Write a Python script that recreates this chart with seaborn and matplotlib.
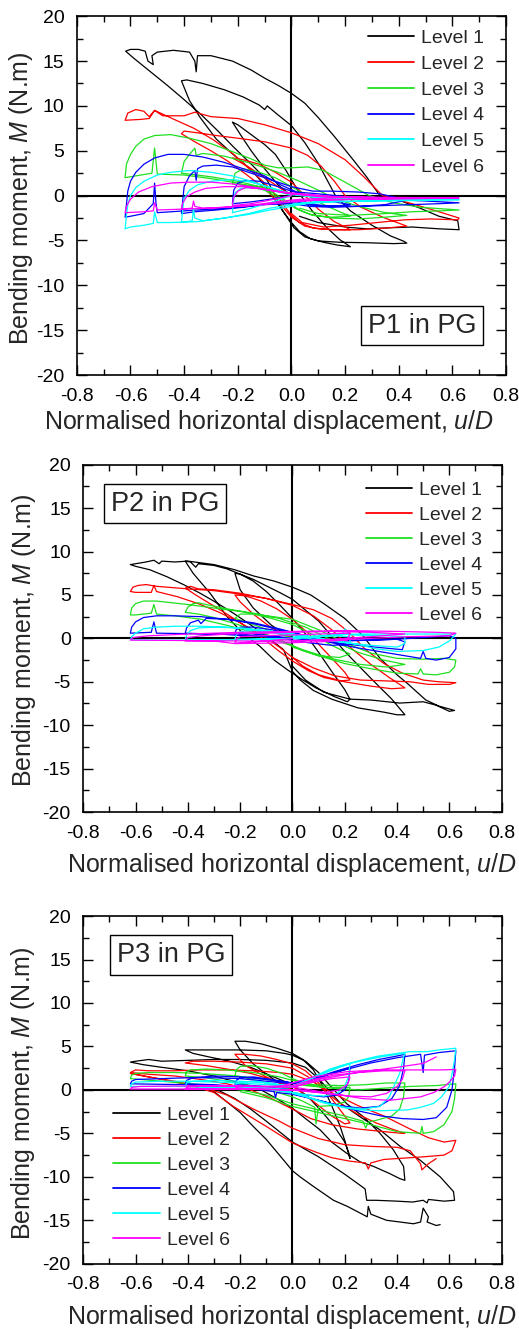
import matplotlib
matplotlib.use("Agg")
import matplotlib.pyplot as plt
from matplotlib.ticker import MultipleLocator
import pandas as pd
import seaborn as sns

# ---- data: (u/D, M [N.m]) along each loading path ----

P1_L1 = [(0.00, 0.0), (-0.05, 1.2), (-0.10, 3.0), (-0.15, 5.0), (-0.19, 6.8), (-0.22, 8.2),
         (-0.20, 7.9), (-0.15, 6.8), (-0.10, 5.7), (-0.06, 4.6), (-0.02, 2.8), (0.035, 0.0),
         (0.08, -1.8), (0.13, -3.5), (0.18, -4.9), (0.22, -5.7),
         (0.17, -5.5), (0.12, -5.2), (0.07, -4.8), (0.03, -4.0), (0.00, -3.0), (-0.04, -1.4),
         (-0.09, 0.8), (-0.15, 2.9), (-0.21, 4.4), (-0.28, 6.3), (-0.34, 8.7), (-0.38, 10.6),
         (-0.41, 12.8), (-0.39, 12.9), (-0.33, 12.5), (-0.25, 11.8), (-0.18, 11.0), (-0.12, 10.1),
         (-0.10, 9.6), (-0.09, 10.0), (-0.05, 9.0), (0.00, 7.8), (0.05, 5.9), (0.10, 3.6),
         (0.164, 0.0), (0.22, -1.7), (0.30, -3.3), (0.37, -4.5), (0.42, -5.1), (0.43, -5.3),
         (0.38, -5.35), (0.28, -5.25), (0.18, -5.2), (0.10, -5.05), (0.05, -4.6), (0.01, -3.6),
         (-0.03, -1.8), (-0.09, 1.7), (-0.153, 3.6), (-0.215, 5.4), (-0.277, 7.3), (-0.339, 9.1),
         (-0.40, 10.7), (-0.463, 12.3), (-0.525, 13.8), (-0.587, 15.3), (-0.618, 16.1),
         (-0.60, 16.3), (-0.57, 16.3), (-0.545, 16.1), (-0.535, 15.0), (-0.515, 14.6),
         (-0.52, 15.6), (-0.50, 16.0), (-0.44, 16.2), (-0.38, 16.0), (-0.36, 15.0),
         (-0.355, 13.8), (-0.35, 15.6), (-0.30, 15.6), (-0.22, 15.0), (-0.15, 14.0),
         (-0.10, 13.1), (-0.05, 12.3), (0.00, 11.4), (0.05, 10.3), (0.10, 8.7), (0.16, 6.6),
         (0.23, 4.0), (0.28, 2.1), (0.33, 0.0), (0.40, -0.5), (0.48, -1.4), (0.55, -2.3),
         (0.62, -2.8), (0.625, -3.8), (0.55, -3.7), (0.45, -3.5), (0.35, -3.6), (0.28, -3.7),
         (0.20, -3.5), (0.10, -3.0), (0.03, -2.3)]

P1_L2 = [(0.00, 0.0), (-0.05, 1.0), (-0.10, 2.0), (-0.16, 3.2), (-0.22, 4.2),
         (-0.18, 4.0), (-0.12, 3.5), (-0.06, 2.6), (0.00, 1.5), (0.05, 0.0), (0.10, -1.5),
         (0.16, -2.9), (0.22, -3.8), (0.16, -3.8), (0.10, -3.7), (0.05, -3.4), (0.00, -2.4),
         (-0.04, -1.0), (-0.10, 0.8), (-0.17, 2.4), (-0.24, 3.9), (-0.30, 5.0), (-0.36, 6.0),
         (-0.41, 6.9), (-0.40, 7.2), (-0.35, 7.0), (-0.28, 6.7), (-0.20, 6.4), (-0.10, 6.0),
         (0.00, 5.3), (0.06, 4.5), (0.11, 3.3), (0.16, 1.6), (0.20, 0.0), (0.26, -1.3),
         (0.34, -2.4), (0.43, -3.4), (0.36, -3.6), (0.25, -3.8), (0.15, -3.8), (0.08, -3.6),
         (0.03, -3.0), (0.00, -2.2), (-0.04, -0.6), (-0.10, 1.4), (-0.165, 3.2), (-0.215, 4.6),
         (-0.29, 6.2), (-0.363, 7.5), (-0.43, 8.4), (-0.51, 9.5), (-0.53, 8.6), (-0.56, 8.5),
         (-0.62, 8.4), (-0.61, 9.2), (-0.58, 9.6), (-0.55, 9.4), (-0.53, 8.8), (-0.51, 9.5),
         (-0.48, 8.9), (-0.40, 8.9), (-0.36, 9.3), (-0.30, 8.8), (-0.20, 8.6), (-0.10, 7.9),
         (0.00, 7.0), (0.10, 5.8), (0.20, 4.0), (0.27, 2.1), (0.34, 0.0), (0.45, -0.9),
         (0.55, -1.8), (0.625, -2.5), (0.62, -2.7), (0.52, -2.6), (0.42, -2.7), (0.32, -3.0),
         (0.22, -3.3), (0.12, -3.5), (0.04, -3.0), (0.00, -2.0)]

P1_L3 = [(0.00, 0.0), (-0.06, 0.6), (-0.12, 1.0), (-0.18, 1.2), (-0.22, 1.3),
         (-0.21, 2.5), (-0.18, 3.0), (-0.12, 2.6), (-0.06, 2.0), (0.00, 1.0), (0.06, 0.0),
         (0.12, -1.0), (0.18, -1.8), (0.22, -2.3), (0.15, -2.4), (0.08, -2.2), (0.03, -1.6),
         (0.00, -1.0), (-0.06, 0.2), (-0.12, 1.0), (-0.20, 1.6), (-0.30, 2.1), (-0.38, 2.4),
         (-0.41, 2.5), (-0.40, 3.8), (-0.38, 4.6), (-0.36, 5.3), (-0.355, 4.5), (-0.33, 4.7),
         (-0.25, 4.4), (-0.15, 3.6), (-0.05, 2.6), (0.03, 1.6), (0.10, 0.6), (0.16, -0.3),
         (0.25, -1.2), (0.35, -1.9), (0.43, -2.2), (0.35, -2.4), (0.25, -2.6), (0.15, -2.5),
         (0.07, -2.1), (0.02, -1.5), (-0.03, -0.6), (-0.10, 0.6), (-0.20, 1.4), (-0.30, 1.9),
         (-0.40, 2.3), (-0.50, 2.4), (-0.51, 5.3), (-0.52, 2.5), (-0.58, 2.2), (-0.62, 2.0),
         (-0.615, 3.5), (-0.60, 4.6), (-0.58, 5.5), (-0.55, 6.3), (-0.51, 6.7), (-0.45, 6.8),
         (-0.38, 6.4), (-0.30, 5.8), (-0.22, 4.9), (-0.15, 4.1), (-0.10, 3.4), (-0.05, 3.1),
         (0.00, 3.1), (0.06, 3.2), (0.12, 2.8), (0.20, 1.5), (0.29, 0.0), (0.38, -0.8),
         (0.48, -1.3), (0.625, -1.6), (0.55, -1.7), (0.45, -1.8), (0.35, -2.0), (0.22, -2.2),
         (0.10, -2.0), (0.03, -1.4)]

P1_L4 = [(0.00, 0.0), (-0.08, -0.4), (-0.15, -0.7), (-0.22, -0.9),
         (-0.215, 0.6), (-0.20, 1.4), (-0.17, 1.7), (-0.12, 1.6), (-0.06, 1.1), (0.00, 0.5),
         (0.06, 0.0), (0.12, -0.5), (0.22, -1.0), (0.15, -1.2), (0.08, -1.1), (0.02, -0.7),
         (-0.08, -0.9), (-0.18, -1.3), (-0.28, -1.6), (-0.36, -1.8), (-0.41, -2.0),
         (-0.405, -0.5), (-0.40, 1.0), (-0.38, 2.2), (-0.36, 2.8), (-0.355, 1.7), (-0.35, 3.0),
         (-0.33, 3.3), (-0.28, 3.4), (-0.22, 3.2), (-0.15, 2.5), (-0.08, 1.8), (0.00, 1.0),
         (0.08, 0.5), (0.15, 0.5), (0.25, 0.4), (0.33, 0.2), (0.43, -0.5), (0.35, -1.0),
         (0.25, -1.2), (0.15, -1.3), (0.07, -1.2), (0.00, -0.9), (-0.10, -1.0), (-0.20, -1.3),
         (-0.30, -1.5), (-0.40, -1.7), (-0.50, -1.9), (-0.505, -0.8), (-0.51, 1.4),
         (-0.515, -0.9), (-0.55, -2.0), (-0.60, -2.3), (-0.62, -2.4), (-0.615, -1.0),
         (-0.61, 0.5), (-0.60, 1.6), (-0.58, 2.6), (-0.55, 3.5), (-0.51, 4.2), (-0.46, 4.6),
         (-0.40, 4.6), (-0.33, 4.3), (-0.25, 3.7), (-0.18, 3.0), (-0.10, 2.2), (-0.04, 1.2),
         (0.02, 0.4), (0.10, 0.2), (0.20, -0.1), (0.35, -0.4), (0.50, -0.6), (0.625, -0.8),
         (0.55, -0.9), (0.45, -1.0), (0.35, -1.1), (0.25, -1.2), (0.12, -1.1), (0.03, -0.8)]

P1_L5 = [(0.00, 0.0), (-0.08, -0.8), (-0.15, -1.4), (-0.22, -1.9),
         (-0.215, -0.5), (-0.21, 0.3), (-0.19, 0.8), (-0.15, 0.9), (-0.08, 0.6), (0.00, 0.1),
         (0.10, -0.2), (0.22, -0.4), (0.12, -0.6), (0.04, -0.8), (0.00, -1.0),
         (-0.08, -1.4), (-0.16, -2.0), (-0.25, -2.5), (-0.33, -2.8), (-0.36, -2.5),
         (-0.365, -1.5), (-0.37, -2.8), (-0.41, -3.0), (-0.405, -1.5), (-0.40, -0.3),
         (-0.38, 0.6), (-0.35, 1.2), (-0.30, 1.6), (-0.22, 1.8), (-0.15, 1.5), (-0.08, 0.9),
         (0.00, 0.2), (0.10, -0.1), (0.25, -0.3), (0.43, -0.5), (0.30, -0.6), (0.15, -0.7),
         (0.05, -0.9), (0.00, -1.2), (-0.08, -1.6), (-0.16, -2.1), (-0.25, -2.5),
         (-0.35, -2.9), (-0.45, -3.0), (-0.50, -3.0), (-0.51, -1.8), (-0.515, -3.1),
         (-0.55, -3.3), (-0.60, -3.5), (-0.62, -3.7), (-0.615, -2.2), (-0.61, -1.0),
         (-0.60, 0.0), (-0.58, 0.9), (-0.55, 1.6), (-0.50, 2.3), (-0.45, 2.6), (-0.38, 2.8),
         (-0.30, 2.6), (-0.22, 2.2), (-0.15, 1.6), (-0.08, 0.9), (0.00, 0.2), (0.10, -0.2),
         (0.30, -0.4), (0.625, -0.45), (0.45, -0.55), (0.25, -0.6), (0.10, -0.7), (0.00, -1.0)]

P1_L6 = [(0.00, 0.0), (-0.08, -0.5), (-0.15, -0.9), (-0.22, -1.1),
         (-0.215, -0.2), (-0.20, 0.5), (-0.17, 0.9), (-0.12, 0.8), (-0.06, 0.5), (0.00, 0.2),
         (0.10, -0.1), (0.22, -0.2), (0.12, -0.3), (0.04, -0.4), (0.00, -0.5),
         (-0.08, -0.8), (-0.16, -1.1), (-0.25, -1.3), (-0.33, -1.4), (-0.36, -1.2),
         (-0.365, -0.6), (-0.37, -1.4), (-0.41, -1.5), (-0.405, -0.8), (-0.39, -0.1),
         (-0.36, 0.4), (-0.32, 0.8), (-0.25, 1.0), (-0.18, 1.0), (-0.10, 0.7), (0.00, 0.3),
         (0.15, -0.1), (0.43, -0.3), (0.25, -0.4), (0.10, -0.5), (0.00, -0.7),
         (-0.10, -1.0), (-0.20, -1.2), (-0.30, -1.4), (-0.40, -1.5), (-0.50, -1.6),
         (-0.51, -0.8), (-0.515, -1.7), (-0.55, -1.8), (-0.62, -1.9), (-0.615, -1.2),
         (-0.60, -0.4), (-0.57, 0.4), (-0.52, 1.0), (-0.45, 1.4), (-0.38, 1.5), (-0.30, 1.5),
         (-0.22, 1.3), (-0.15, 1.0), (-0.08, 0.6), (0.00, 0.2), (0.15, -0.1), (0.35, -0.2),
         (0.625, -0.25), (0.45, -0.35), (0.25, -0.4), (0.10, -0.5), (0.00, -0.6)]

P2_L1 = [(0.00, 0.0), (-0.08, 1.5), (-0.15, 3.5), (-0.20, 5.6), (-0.22, 7.5),
         (-0.20, 7.4), (-0.15, 6.6), (-0.10, 5.4), (-0.05, 3.9), (0.00, 2.3), (0.05, 0.5),
         (0.10, -1.6), (0.15, -3.8), (0.20, -5.9), (0.22, -7.0), (0.21, -7.3), (0.16, -6.7),
         (0.09, -5.7), (0.04, -4.8), (0.00, -4.0), (-0.02, -3.6), (-0.07, -2.5),
         (-0.125, -0.9), (-0.19, 0.6), (-0.25, 2.5), (-0.315, 5.2), (-0.38, 7.5), (-0.41, 8.9),
         (-0.39, 8.8), (-0.37, 8.2), (-0.36, 8.6), (-0.30, 8.4), (-0.25, 8.0), (-0.15, 6.8),
         (-0.05, 5.3), (0.00, 4.5), (0.10, 2.0), (0.20, -1.5), (0.30, -4.6), (0.38, -7.0),
         (0.43, -8.8), (0.40, -8.8), (0.35, -8.5), (0.25, -8.0), (0.15, -7.0), (0.08, -6.0),
         (0.03, -4.8), (0.00, -3.8), (-0.034, -1.3), (-0.098, 0.2), (-0.162, 1.6),
         (-0.226, 2.9), (-0.29, 4.1), (-0.353, 5.2), (-0.417, 6.2), (-0.48, 7.1),
         (-0.545, 7.9), (-0.60, 8.3), (-0.62, 8.5), (-0.60, 8.6), (-0.56, 8.8), (-0.53, 9.0),
         (-0.51, 8.6), (-0.50, 8.9), (-0.45, 8.8), (-0.40, 8.9), (-0.30, 8.5), (-0.22, 7.9),
         (-0.15, 7.2), (-0.07, 6.6), (0.00, 5.9), (0.07, 5.0), (0.12, 4.0), (0.20, 2.3),
         (0.27, 0.3), (0.335, -2.3), (0.40, -4.2), (0.44, -5.2), (0.51, -7.1), (0.56, -7.8),
         (0.62, -8.3), (0.60, -8.4), (0.55, -7.7), (0.50, -7.3), (0.41, -7.45), (0.30, -7.1),
         (0.22, -7.0), (0.12, -6.2), (0.05, -4.8), (0.00, -3.2)]

P2_L2 = [(0.00, 0.0), (-0.08, 1.2), (-0.15, 2.8), (-0.20, 4.2), (-0.22, 5.0),
         (-0.18, 4.9), (-0.12, 4.3), (-0.06, 3.4), (0.00, 2.2), (0.06, 0.6), (0.11, -1.0),
         (0.16, -2.6), (0.20, -3.9), (0.22, -4.8), (0.18, -4.9), (0.12, -4.5), (0.06, -3.7),
         (0.00, -2.6), (-0.05, -1.5), (-0.10, -0.3), (-0.17, 1.2), (-0.24, 2.6), (-0.31, 3.9),
         (-0.37, 5.0), (-0.41, 5.8), (-0.39, 6.0), (-0.36, 5.7), (-0.30, 5.6), (-0.20, 5.2),
         (-0.10, 4.6), (0.00, 3.8), (0.08, 2.6), (0.15, 1.0), (0.22, -1.0), (0.30, -3.0),
         (0.37, -4.5), (0.43, -5.7), (0.38, -5.8), (0.30, -5.5), (0.20, -5.0), (0.10, -4.2),
         (0.04, -3.2), (0.00, -2.2), (-0.05, -1.0), (-0.12, 0.4), (-0.20, 1.8), (-0.28, 3.0),
         (-0.36, 4.0), (-0.44, 4.8), (-0.52, 5.4), (-0.53, 6.1), (-0.54, 5.3), (-0.60, 5.3),
         (-0.62, 5.4), (-0.61, 5.9), (-0.59, 6.1), (-0.56, 6.2), (-0.52, 6.0), (-0.48, 5.9),
         (-0.40, 5.7), (-0.30, 5.5), (-0.20, 5.1), (-0.10, 4.6), (0.00, 3.9), (0.08, 3.3),
         (0.15, 2.3), (0.22, 0.6), (0.28, -1.3), (0.35, -2.9), (0.42, -4.0), (0.50, -4.8),
         (0.56, -5.0), (0.625, -5.1), (0.60, -5.3), (0.52, -5.3), (0.45, -5.0), (0.36, -4.9),
         (0.26, -4.8), (0.16, -4.3), (0.08, -3.4), (0.00, -2.2)]

P2_L3 = [(0.00, 0.0), (-0.08, 0.8), (-0.15, 1.6), (-0.22, 2.3),
         (-0.20, 2.8), (-0.15, 2.8), (-0.08, 2.3), (0.00, 1.6), (0.08, 0.4), (0.15, -0.8),
         (0.22, -1.8), (0.18, -2.2), (0.10, -2.0), (0.04, -1.4), (0.00, -0.8), (-0.06, 0.0),
         (-0.14, 0.9), (-0.22, 1.7), (-0.30, 2.4), (-0.36, 2.8), (-0.41, 3.0), (-0.40, 3.6),
         (-0.38, 4.0), (-0.36, 4.1), (-0.33, 3.9), (-0.25, 3.4), (-0.15, 2.9), (-0.05, 2.3),
         (0.05, 1.3), (0.15, -0.2), (0.25, -1.6), (0.35, -2.5), (0.43, -3.0), (0.36, -3.3),
         (0.26, -3.0), (0.16, -2.4), (0.07, -1.6), (0.00, -0.9), (-0.07, -0.1), (-0.15, 0.7),
         (-0.25, 1.5), (-0.35, 2.2), (-0.45, 2.6), (-0.52, 2.8), (-0.53, 3.9), (-0.54, 2.9),
         (-0.60, 2.7), (-0.62, 2.7), (-0.615, 3.5), (-0.60, 4.0), (-0.57, 4.3), (-0.52, 4.3),
         (-0.46, 4.1), (-0.40, 3.9), (-0.30, 3.5), (-0.20, 3.1), (-0.10, 2.6), (0.00, 2.2),
         (0.10, 1.0), (0.20, -0.5), (0.30, -1.7), (0.40, -2.3), (0.50, -2.4), (0.58, -2.3),
         (0.625, -2.5), (0.62, -3.3), (0.60, -3.9), (0.55, -4.2), (0.50, -4.1), (0.49, -3.5),
         (0.48, -4.1), (0.40, -4.0), (0.30, -3.5), (0.20, -2.9), (0.10, -2.0), (0.00, -1.0)]

P2_L4 = [(0.00, 0.0), (-0.08, 0.3), (-0.15, 0.5), (-0.22, 0.6),
         (-0.215, 1.0), (-0.20, 1.3), (-0.15, 1.3), (-0.08, 1.0), (0.00, 0.5), (0.10, -0.2),
         (0.22, -0.7), (0.15, -0.8), (0.06, -0.5), (0.00, -0.2), (-0.10, 0.2), (-0.20, 0.4),
         (-0.30, 0.5), (-0.41, 0.6), (-0.405, 1.2), (-0.39, 1.8), (-0.36, 2.1), (-0.35, 1.7),
         (-0.33, 2.3), (-0.25, 2.2), (-0.15, 1.8), (-0.05, 1.1), (0.05, 0.3), (0.15, -0.4),
         (0.25, -0.8), (0.35, -1.1), (0.42, -1.3), (0.43, -0.4), (0.40, -0.1), (0.30, -0.2),
         (0.20, -0.3), (0.10, -0.2), (0.00, 0.0), (-0.10, 0.2), (-0.20, 0.4), (-0.30, 0.5),
         (-0.40, 0.55), (-0.52, 0.6), (-0.53, 1.9), (-0.54, 0.7), (-0.62, 0.6),
         (-0.615, 1.3), (-0.60, 1.9), (-0.57, 2.4), (-0.52, 2.6), (-0.45, 2.6), (-0.35, 2.5),
         (-0.25, 2.2), (-0.15, 1.7), (-0.05, 1.0), (0.05, 0.3), (0.15, -0.5), (0.25, -1.1),
         (0.35, -1.6), (0.45, -2.1), (0.49, -2.3), (0.50, -1.5), (0.51, -2.3), (0.55, -2.5),
         (0.60, -2.2), (0.625, -1.2), (0.625, 0.0), (0.60, 0.3), (0.50, 0.1), (0.40, -0.1),
         (0.30, -0.2), (0.20, -0.2), (0.10, -0.1), (0.00, 0.0)]

P2_L5 = [(0.00, 0.0), (-0.08, -0.05), (-0.15, -0.1), (-0.22, -0.1),
         (-0.215, 0.4), (-0.20, 0.8), (-0.15, 0.9), (-0.08, 0.7), (0.00, 0.3), (0.10, -0.2),
         (0.22, -0.5), (0.22, 0.2), (0.15, 0.3), (0.05, 0.1), (0.00, 0.0), (-0.10, -0.1),
         (-0.20, -0.15), (-0.30, -0.2), (-0.41, -0.2), (-0.405, 0.4), (-0.39, 0.9),
         (-0.36, 1.2), (-0.30, 1.3), (-0.20, 1.2), (-0.10, 0.9), (0.00, 0.5), (0.10, 0.0),
         (0.20, -0.5), (0.30, -0.8), (0.40, -1.0), (0.43, -0.6), (0.43, 0.2), (0.35, 0.3),
         (0.22, 0.4), (0.20, 1.1), (0.19, 0.4), (0.10, 0.2), (0.00, 0.0), (-0.10, -0.1),
         (-0.25, -0.15), (-0.40, -0.2), (-0.52, -0.2), (-0.62, -0.15), (-0.615, 0.2),
         (-0.60, 0.6), (-0.57, 1.1), (-0.52, 1.3), (-0.45, 1.4), (-0.35, 1.4), (-0.25, 1.3),
         (-0.15, 1.0), (-0.05, 0.7), (0.05, 0.3), (0.15, -0.2), (0.25, -0.7), (0.32, -1.2),
         (0.40, -1.5), (0.50, -1.4), (0.56, -1.0), (0.60, -0.3), (0.625, 0.5), (0.55, 0.5),
         (0.45, 0.5), (0.35, 0.5), (0.25, 0.5), (0.15, 0.4), (0.05, 0.2), (0.00, 0.0)]

P2_L6 = [(0.00, 0.0), (-0.10, -0.3), (-0.22, -0.55),
         (-0.215, -0.1), (-0.20, 0.2), (-0.12, 0.3), (0.00, 0.4), (0.10, 0.5), (0.22, 0.6),
         (0.21, -0.2), (0.10, -0.4), (0.00, -0.5), (-0.10, -0.55), (-0.22, -0.6),
         (-0.30, -0.3), (-0.41, -0.3), (-0.40, 0.1), (-0.35, 0.3), (-0.25, 0.5), (-0.10, 0.6),
         (0.00, 0.7), (0.15, 0.8), (0.30, 0.7), (0.43, 0.5), (0.30, 0.2), (0.15, -0.1),
         (0.00, -0.3), (-0.20, -0.3), (-0.40, -0.25), (-0.62, -0.2), (-0.61, 0.1),
         (-0.55, 0.3), (-0.40, 0.5), (-0.20, 0.7), (0.00, 0.8), (0.20, 0.9), (0.40, 0.8),
         (0.55, 0.7), (0.625, 0.6), (0.60, 0.3), (0.45, 0.2), (0.30, 0.0), (0.15, -0.2),
         (0.00, -0.3)]

P3_L1 = [(0.00, 0.0), (-0.05, 0.8), (-0.10, 1.8), (-0.15, 3.0), (-0.20, 4.6), (-0.22, 5.6),
         (-0.18, 5.6), (-0.12, 5.3), (-0.06, 4.8), (0.00, 4.2), (0.04, 3.5), (0.08, 2.3),
         (0.12, 0.2), (0.15, -1.8), (0.18, -4.0), (0.20, -5.8), (0.22, -7.9),
         (0.215, -7.2), (0.20, -6.0), (0.16, -4.2), (0.11, -2.4), (0.06, -0.8), (0.00, 0.6),
         (-0.08, 1.6), (-0.16, 2.6), (-0.24, 3.3), (-0.32, 3.8), (-0.38, 4.2), (-0.41, 4.6),
         (-0.38, 4.6), (-0.30, 4.6), (-0.20, 4.6), (-0.10, 4.5), (-0.03, 4.2), (0.00, 4.0),
         (0.05, 3.3), (0.10, 2.0), (0.15, 0.3), (0.208, -1.6), (0.272, -3.1), (0.335, -5.0),
         (0.386, -6.9), (0.425, -8.8), (0.43, -10.4), (0.41, -10.2), (0.37, -9.6),
         (0.31, -8.8), (0.26, -8.3), (0.208, -7.3), (0.15, -6.0), (0.106, -4.6), (0.05, -3.3),
         (0.00, -2.1), (-0.06, -1.0), (-0.12, 0.0), (-0.20, 0.8), (-0.30, 1.6), (-0.40, 2.2),
         (-0.50, 2.6), (-0.57, 2.9), (-0.62, 3.2), (-0.60, 3.3), (-0.55, 3.5), (-0.50, 3.3),
         (-0.40, 3.4), (-0.30, 3.5), (-0.20, 3.5), (-0.10, 3.4), (0.00, 3.1), (0.05, 2.6),
         (0.10, 1.3), (0.182, -1.5), (0.259, -3.1), (0.335, -4.6), (0.412, -6.5),
         (0.489, -8.1), (0.565, -10.0), (0.616, -11.7), (0.62, -12.7), (0.58, -12.8),
         (0.52, -12.6), (0.515, -13.0), (0.50, -12.7), (0.46, -12.9), (0.40, -12.8),
         (0.32, -12.7), (0.284, -12.7), (0.278, -11.4), (0.26, -11.0), (0.20, -9.7),
         (0.10, -7.7), (0.00, -6.0), (-0.05, -4.8), (-0.10, -3.6), (-0.16, -2.2),
         (-0.22, -1.0), (-0.28, -0.1), (-0.34, 0.2), (-0.30, -0.2), (-0.25, -1.4),
         (-0.20, -2.6), (-0.15, -4.2), (-0.10, -5.7), (-0.047, -7.6), (0.00, -9.3),
         (0.029, -10.0), (0.08, -11.1), (0.157, -12.7), (0.21, -13.4), (0.286, -14.6),
         (0.29, -13.4), (0.30, -14.3), (0.36, -15.0), (0.463, -15.4), (0.49, -15.2),
         (0.50, -13.6), (0.52, -14.6), (0.515, -15.2), (0.55, -15.6), (0.565, -15.5)]

P3_L2 = [(0.00, 0.0), (-0.06, 0.9), (-0.12, 1.8), (-0.18, 2.8), (-0.22, 4.1),
         (-0.18, 4.1), (-0.12, 3.9), (-0.06, 3.5), (0.00, 3.0), (0.05, 2.2), (0.10, 0.8),
         (0.15, -1.0), (0.19, -2.6), (0.22, -3.8), (0.20, -3.9), (0.15, -3.0), (0.10, -1.8),
         (0.05, -0.6), (0.00, 0.4), (-0.08, 1.2), (-0.16, 1.9), (-0.25, 2.4), (-0.33, 2.8),
         (-0.41, 3.1), (-0.38, 3.3), (-0.30, 3.3), (-0.20, 3.2), (-0.10, 3.0), (0.00, 2.5),
         (0.06, 1.5), (0.12, 0.0), (0.18, -1.5), (0.25, -2.8), (0.32, -3.8), (0.38, -4.5),
         (0.43, -5.0), (0.42, -5.0), (0.35, -4.8), (0.25, -4.5), (0.15, -4.0), (0.07, -3.3),
         (0.00, -2.2), (-0.08, -1.0), (-0.16, 0.0), (-0.25, 0.7), (-0.35, 1.2), (-0.45, 1.6),
         (-0.55, 1.8), (-0.62, 2.0), (-0.60, 2.3), (-0.55, 2.2), (-0.45, 2.2), (-0.35, 2.3),
         (-0.25, 2.3), (-0.15, 2.2), (-0.05, 2.0), (0.00, 1.8), (0.08, 0.9), (0.15, -0.3),
         (0.25, -1.8), (0.35, -3.0), (0.45, -4.5), (0.52, -5.5), (0.58, -6.0), (0.625, -5.8),
         (0.61, -7.0), (0.58, -7.5), (0.50, -7.7), (0.40, -7.9), (0.35, -8.0), (0.30, -8.4),
         (0.29, -9.1), (0.28, -8.4), (0.22, -8.2), (0.15, -7.8), (0.093, -7.2), (0.00, -6.1),
         (-0.10, -4.2), (-0.226, -1.9), (-0.30, -0.3), (-0.40, 0.6), (-0.50, 1.2),
         (-0.62, 1.9), (-0.55, 1.5), (-0.45, 1.0), (-0.35, 0.4), (-0.25, -0.6),
         (-0.15, -2.2), (-0.05, -3.6), (0.00, -4.4), (0.10, -5.6), (0.20, -6.3), (0.30, -6.5),
         (0.40, -6.6), (0.45, -7.0), (0.49, -8.5), (0.495, -9.2), (0.52, -8.5), (0.55, -7.9)]

P3_L3 = [(0.00, 0.0), (-0.08, 0.6), (-0.15, 1.2), (-0.22, 1.6),
         (-0.215, 2.3), (-0.20, 2.7), (-0.16, 2.8), (-0.10, 2.5), (-0.04, 1.9), (0.00, 1.3),
         (0.06, 0.6), (0.12, 0.3), (0.18, 0.3), (0.22, 0.3), (0.215, -0.8), (0.20, -1.4),
         (0.15, -1.8), (0.10, -1.9), (0.09, -3.9), (0.085, -2.0), (0.04, -1.3), (0.00, -0.8),
         (-0.08, -0.1), (-0.16, 0.5), (-0.25, 1.0), (-0.33, 1.4), (-0.41, 1.6),
         (-0.405, 2.1), (-0.39, 2.3), (-0.33, 2.4), (-0.25, 2.3), (-0.15, 2.0), (-0.05, 1.5),
         (0.00, 1.1), (0.08, 0.6), (0.18, 0.5), (0.28, 0.6), (0.36, 0.8), (0.43, 0.8),
         (0.425, -0.8), (0.41, -2.2), (0.38, -3.0), (0.32, -3.5), (0.29, -3.7), (0.28, -4.4),
         (0.27, -3.6), (0.20, -3.0), (0.10, -2.3), (0.00, -1.6), (-0.10, -0.6), (-0.20, 0.0),
         (-0.35, 0.6), (-0.50, 1.0), (-0.62, 1.3), (-0.615, 1.7), (-0.60, 1.9), (-0.55, 2.0),
         (-0.45, 2.0), (-0.35, 1.9), (-0.25, 1.7), (-0.15, 1.4), (-0.05, 1.0), (0.05, 0.5),
         (0.15, 0.2), (0.25, 0.0), (0.35, 0.2), (0.45, 0.4), (0.55, 0.5), (0.625, 0.7),
         (0.62, -1.0), (0.61, -2.5), (0.58, -4.0), (0.54, -4.8), (0.50, -5.0), (0.495, -4.2),
         (0.49, -5.0), (0.40, -4.8), (0.30, -4.0), (0.20, -3.3), (0.10, -2.6), (0.00, -1.9),
         (-0.10, -0.9), (-0.20, -0.2)]

P3_L4 = [(0.00, 0.0), (-0.08, 0.3), (-0.15, 0.5), (-0.22, 0.6),
         (-0.215, 1.1), (-0.20, 1.4), (-0.15, 1.5), (-0.08, 1.2), (0.00, 0.8), (0.06, 1.0),
         (0.12, 1.6), (0.18, 2.2), (0.22, 2.5), (0.215, 1.0), (0.20, 0.0), (0.17, -0.6),
         (0.12, -0.8), (0.06, -0.6), (0.00, -0.3), (-0.08, 0.0), (-0.20, 0.4), (-0.30, 0.6),
         (-0.41, 0.7), (-0.405, 1.1), (-0.38, 1.4), (-0.30, 1.6), (-0.20, 1.5), (-0.10, 1.2),
         (0.00, 0.8), (0.08, 1.3), (0.16, 2.1), (0.25, 2.9), (0.33, 3.5), (0.40, 3.9),
         (0.43, 4.1), (0.425, 2.5), (0.41, 0.5), (0.38, -1.0), (0.33, -1.9), (0.26, -2.1),
         (0.18, -1.8), (0.10, -1.2), (0.00, -0.5), (-0.06, -0.3), (-0.065, -0.9),
         (-0.07, -0.2), (-0.20, 0.3), (-0.40, 0.6), (-0.62, 0.7), (-0.615, 1.0), (-0.60, 1.2),
         (-0.50, 1.3), (-0.40, 1.4), (-0.30, 1.4), (-0.20, 1.3), (-0.10, 1.0), (0.00, 0.7),
         (0.10, 1.4), (0.20, 2.3), (0.30, 3.1), (0.40, 3.7), (0.49, 4.1), (0.50, 2.0),
         (0.505, 4.0), (0.56, 4.3), (0.625, 4.5), (0.62, 2.5), (0.61, 0.0), (0.59, -2.0),
         (0.55, -3.2), (0.50, -3.4), (0.42, -3.3), (0.34, -3.0), (0.25, -2.4), (0.15, -1.6),
         (0.05, -0.8), (0.00, -0.4)]

P3_L5 = [(0.00, 0.0), (-0.08, 0.2), (-0.15, 0.3), (-0.22, 0.4),
         (-0.215, 0.7), (-0.20, 0.9), (-0.14, 1.0), (-0.07, 0.7), (0.00, 0.4), (0.06, 1.2),
         (0.12, 1.9), (0.18, 2.6), (0.22, 3.0), (0.215, 1.6), (0.20, 0.4), (0.17, -0.4),
         (0.12, -0.7), (0.06, -0.6), (0.00, -0.3), (-0.10, 0.1), (-0.25, 0.3), (-0.41, 0.4),
         (-0.405, 0.8), (-0.38, 1.0), (-0.30, 1.1), (-0.20, 1.0), (-0.10, 0.8), (0.00, 0.4),
         (0.08, 1.4), (0.144, 2.3), (0.20, 2.9), (0.272, 3.4), (0.34, 3.8), (0.40, 4.1),
         (0.43, 4.2), (0.425, 3.8), (0.41, 1.9), (0.37, -0.8), (0.335, -1.9), (0.27, -2.2),
         (0.20, -2.0), (0.12, -1.4), (0.05, -0.7), (0.00, -0.3), (-0.10, 0.1), (-0.25, 0.3),
         (-0.45, 0.4), (-0.62, 0.4), (-0.615, 0.7), (-0.60, 0.9), (-0.50, 1.0), (-0.40, 1.0),
         (-0.30, 0.9), (-0.20, 0.8), (-0.10, 0.6), (0.00, 0.4), (0.03, 0.6), (0.08, 1.5),
         (0.144, 2.4), (0.21, 3.0), (0.272, 3.5), (0.33, 3.9), (0.40, 4.2), (0.45, 4.4),
         (0.514, 4.4), (0.56, 4.6), (0.625, 4.8), (0.62, 3.5), (0.61, 1.8), (0.60, 0.4),
         (0.57, -0.8), (0.54, -1.55), (0.49, -2.0), (0.44, -2.3), (0.335, -2.4), (0.26, -2.3),
         (0.208, -2.1), (0.12, -1.5), (0.05, -0.8), (0.00, -0.4)]

P3_L6 = [(0.00, 0.0), (-0.10, 0.05), (-0.22, 0.1),
         (-0.215, 0.3), (-0.18, 0.4), (-0.10, 0.35), (0.00, 0.3), (0.08, 0.9), (0.15, 1.3),
         (0.22, 1.5), (0.21, 0.6), (0.18, 0.0), (0.12, -0.3), (0.06, -0.2), (0.00, 0.0),
         (-0.20, 0.1), (-0.41, 0.1), (-0.405, 0.3), (-0.35, 0.45), (-0.20, 0.45),
         (-0.08, 0.4), (0.00, 0.5), (0.08, 1.2), (0.16, 1.7), (0.25, 2.0), (0.35, 2.2),
         (0.43, 2.2), (0.42, 1.2), (0.40, 0.4), (0.36, -0.4), (0.30, -0.8), (0.22, -0.7),
         (0.12, -0.4), (0.03, 0.0), (-0.15, 0.1), (-0.35, 0.1), (-0.62, 0.1), (-0.615, 0.3),
         (-0.58, 0.4), (-0.45, 0.45), (-0.30, 0.45), (-0.15, 0.4), (-0.047, 0.4), (0.08, 1.5),
         (0.208, 2.1), (0.335, 2.3), (0.463, 2.3), (0.565, 2.3), (0.625, 2.35), (0.62, 1.6),
         (0.60, 0.9), (0.58, 0.36), (0.54, -0.3), (0.49, -0.8), (0.37, -1.2), (0.27, -1.0),
         (0.144, -0.4), (0.03, 0.2), (0.00, 0.3), (0.10, 1.2), (0.25, 2.0), (0.40, 2.6),
         (0.50, 3.05), (0.55, 3.8)]

LEVELS = ["Level 1", "Level 2", "Level 3", "Level 4", "Level 5", "Level 6"]
COLORS = ["#000000", "#ff0000", "#1fe01f", "#0000ff", "#00ffff", "#ff00ff"]

PANELS = [
    ("P1 in PG", [P1_L1, P1_L2, P1_L3, P1_L4, P1_L5, P1_L6]),
    ("P2 in PG", [P2_L1, P2_L2, P2_L3, P2_L4, P2_L5, P2_L6]),
    ("P3 in PG", [P3_L1, P3_L2, P3_L3, P3_L4, P3_L5, P3_L6]),
]


def build_frame(paths):
    rows = []
    for name, path in zip(LEVELS, paths):
        for i, (u, m) in enumerate(path):
            rows.append({"Level": name, "step": i, "u": u, "M": m})
    return pd.DataFrame(rows)


sns.set_theme(style="white")
plt.rcParams["font.family"] = ["Liberation Sans", "DejaVu Sans"]
plt.rcParams["mathtext.fontset"] = "custom"
plt.rcParams["mathtext.rm"] = "Liberation Sans"
plt.rcParams["mathtext.it"] = "Liberation Sans:italic"
plt.rcParams["axes.unicode_minus"] = False

fig = plt.figure(figsize=(5.19, 13.29), dpi=100)

# axes rectangles in figure fractions
rects = [(0.148, 0.7178, 0.827, 0.270),
         (0.1605, 0.389, 0.806, 0.2613),
         (0.1605, 0.0491, 0.806, 0.2616)]
legend_anchor = [(0.678, 0.963), (0.675, 0.953), (0.072, 0.452)]
legend_spacing = [0.42, 0.38, 0.38]
box_pos = [(0.805, 0.138), (0.196, 0.888), (0.21, 0.888)]
ylabel_xy = [(-0.098, 0.493), (-0.108, 0.496), (-0.111, 0.492)]
xlabel_xy = [(0.448, -0.093), (0.50, -0.112), (0.50, -0.112)]

for k, (title, paths) in enumerate(PANELS):
    ax = fig.add_axes(rects[k])
    df = build_frame(paths)

    ax.axhline(0, color="black", lw=1.5, zorder=1)
    ax.axvline(0, color="black", lw=1.5, zorder=1)

    sns.lineplot(data=df, x="u", y="M", hue="Level", hue_order=LEVELS,
                 palette=COLORS, sort=False, estimator=None, lw=0.9, ax=ax, zorder=2)

    ax.set_xlim(-0.8, 0.8)
    ax.set_ylim(-20, 20)
    ax.set_xticks([-0.8, -0.6, -0.4, -0.2, 0.0, 0.2, 0.4, 0.6, 0.8])
    ax.set_yticks([-20, -15, -10, -5, 0, 5, 10, 15, 20])
    ax.xaxis.set_minor_locator(MultipleLocator(0.1))
    ax.yaxis.set_minor_locator(MultipleLocator(2.5))
    ax.xaxis.set_major_formatter(matplotlib.ticker.FormatStrFormatter("%.1f"))
    ax.tick_params(which="both", direction="in", top=True, right=True,
                   bottom=True, left=True, colors="black", labelsize=14, width=1.0)
    ax.tick_params(which="major", length=7, pad=9)
    ax.tick_params(which="minor", length=4)
    for sp in ax.spines.values():
        sp.set_color("black")
        sp.set_linewidth(1.2)

    ax.set_xlabel("Normalised horizontal displacement, $\\mathit{u/D}$", fontsize=18)
    ax.set_ylabel("Bending moment, $\\mathit{M}$ (N.m)", fontsize=18)
    ax.xaxis.set_label_coords(*xlabel_xy[k])
    ax.yaxis.set_label_coords(*ylabel_xy[k])

    handles, labels = ax.get_legend_handles_labels()
    leg = ax.legend(handles, labels, loc="upper left", bbox_to_anchor=legend_anchor[k],
                    frameon=False, fontsize=14, handlelength=2.4, handletextpad=0.35,
                    labelspacing=legend_spacing[k], borderpad=0, borderaxespad=0)
    for line in leg.get_lines():
        line.set_linewidth(1.3)

    ax.text(box_pos[k][0], box_pos[k][1], title, transform=ax.transAxes,
            ha="center", va="center", fontsize=19.5,
            bbox=dict(boxstyle="square,pad=0.25", fc="white", ec="black", lw=1.0))

fig.savefig("out.png", dpi=100)
